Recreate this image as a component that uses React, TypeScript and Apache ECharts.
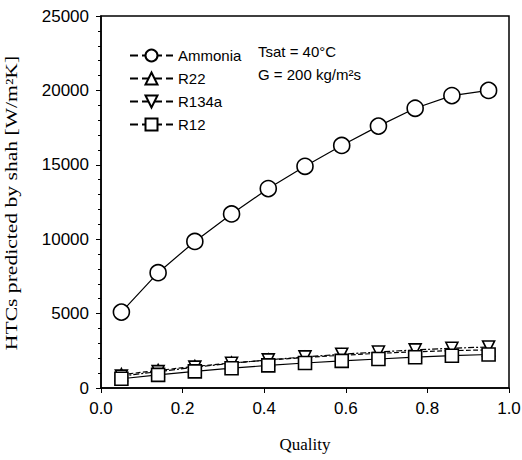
import React, { useEffect, useRef } from "react";
import * as echarts from "echarts";

const quality = [0.05, 0.14, 0.23, 0.32, 0.41, 0.5, 0.59, 0.68, 0.77, 0.86, 0.95];
const ammonia = [5100, 7750, 9850, 11700, 13400, 14900, 16300, 17600, 18800, 19650, 20000];
const r22 = [900, 1180, 1450, 1680, 1880, 2050, 2200, 2330, 2430, 2510, 2560];
const r134a = [800, 1100, 1400, 1660, 1890, 2090, 2270, 2420, 2560, 2670, 2760];
const r12 = [620, 880, 1120, 1330, 1520, 1680, 1820, 1950, 2070, 2170, 2250];
const seriesNames = ["Ammonia", "R22", "R134a", "R12"];
const yTitle = "HTCs predicted by shah [W/m²K]";
const xTitle = "Quality";

const pair = (ys: number[]) => quality.map((x, i) => [x, ys[i]]);

export default function App() {
  const ref = useRef<HTMLDivElement>(null);
  useEffect(() => {
    const chart = echarts.init(ref.current!, null, { renderer: "svg" });
    const sans = "Liberation Sans, Arial, sans-serif";
    const serif = "Liberation Serif, Times New Roman, serif";
    const mk = (name: string, data: number[], symbol: string, size: number, lineType: any, rotate = 0) => ({
      name,
      type: "line",
      data: pair(data),
      symbol,
      symbolSize: size,
      symbolRotate: rotate,
      showAllSymbol: true,
      lineStyle: { color: "#000", width: 1.2, type: lineType },
      itemStyle: { color: "#fff", borderColor: "#000", borderWidth: 1.6 },
      z: 3,
    });
    chart.setOption({
      animation: false,
      backgroundColor: "#fff",
      grid: { left: 101, right: 13, top: 16, bottom: 72, containLabel: false, outerBoundsMode: "none" },
      legend: {
        orient: "vertical",
        left: 124,
        top: 43,
        itemGap: 8,
        itemWidth: 43,
        itemHeight: 15,
        data: seriesNames,
        textStyle: { fontFamily: sans, fontSize: 15, color: "#000" },
        lineStyle: { type: "dashed" },
      },
      xAxis: {
        type: "value",
        min: 0,
        max: 1,
        interval: 0.2,
        name: xTitle,
        nameLocation: "middle",
        nameGap: 48,
        nameTextStyle: { fontFamily: serif, fontSize: 17, color: "#000" },
        axisLine: { lineStyle: { color: "#000", width: 1.5 } },
        axisTick: { inside: false, length: 5, lineStyle: { color: "#000" } },
        axisLabel: { formatter: (v: number) => v.toFixed(1), fontFamily: sans, fontSize: 17, color: "#000", margin: 12 },
        splitLine: { show: false },
      },
      yAxis: {
        type: "value",
        min: 0,
        max: 25000,
        interval: 5000,
        axisLine: { lineStyle: { color: "#000", width: 1.5 } },
        axisTick: { inside: false, length: 5, lineStyle: { color: "#000" } },
        minorTick: { show: true, splitNumber: 5, length: 3, lineStyle: { color: "#000" } },
        axisLabel: { formatter: (v: number) => String(v), fontFamily: sans, fontSize: 17, color: "#000", margin: 12 },
        splitLine: { show: false },
      },
      graphic: [
        { type: "rect", shape: { x: 101, y: 16, width: 408, height: 372 }, style: { fill: "none", stroke: "#000", lineWidth: 1.5 }, silent: true, z: 0 },
        { type: "text", left: 258, top: 44, style: { text: "Tsat = 40°C", fontFamily: sans, fontSize: 15, fill: "#000" } },
        { type: "text", left: 258, top: 67, style: { text: "G = 200 kg/m²s", fontFamily: sans, fontSize: 15, fill: "#000" } },
        {
          type: "text",
          x: 12,
          y: 203,
          rotation: Math.PI / 2,
          scaleX: 1.35,
          scaleY: 1,
          style: { text: yTitle, fontFamily: serif, fontSize: 16, fill: "#000", align: "center", verticalAlign: "middle" },
        },
      ],
      series: [
        mk("Ammonia", ammonia, "circle", 16, "solid"),
        mk("R22", r22, "triangle", 12, "dashed"),
        mk("R134a", r134a, "triangle", 12, [6, 2, 2, 2], 180),
        mk("R12", r12, "rect", 13, "solid"),
      ],
    });
    return () => chart.dispose();
  }, []);
  return <div ref={ref} style={{ width: 522, height: 460, position: "absolute", left: 0, top: 0 }} />;
}
